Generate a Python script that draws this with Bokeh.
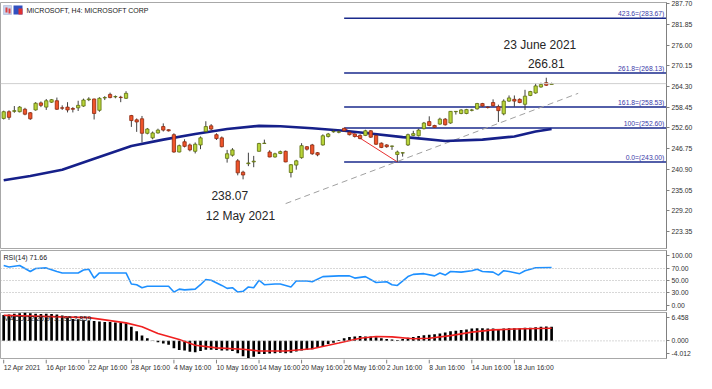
from bokeh.plotting import figure
from bokeh.layouts import column
from bokeh.models import (ColumnDataSource, Range1d, FixedTicker, Label, Span,
                          NumeralTickFormatter, BoxAnnotation)
from bokeh.embed import file_html
from bokeh.resources import INLINE
from bokeh.core.properties import value

# ---------------- data ----------------
opens = [255.3, 257.2, 257.3, 257.2, 257.9, 256.9, 257.7, 259.7, 258.5, 259.9,
         260.3, 258.3, 258.5, 258.1, 258.3, 258.8, 260.6, 260.8, 257.6, 261.1,
         262.1, 261.4, 261.3, 261.0, 256.1, 254.9, 255.2, 251.1, 249.8, 251.2,
         253.0, 252.1, 250.7, 245.8, 248.7, 247.8, 246.0, 247.8, 251.6, 253.2,
         250.7, 249.8, 244.0, 244.9, 243.3, 240.1, 242.5, 243.0, 246.0, 248.2,
         245.8, 244.4, 245.4, 246.0, 240.0, 242.1, 244.2, 247.3, 247.8, 245.6,
         247.8, 250.2, 251.5, 251.4, 252.5, 251.4, 250.9, 250.5, 250.5, 251.8,
         250.5, 248.3, 247.8, 247.4, 245.1, 245.5, 247.8, 250.5, 250.4, 252.4,
         254.4, 253.3, 253.7, 255.1, 254.0, 257.2, 256.7, 256.7, 257.6, 258.0,
         259.5, 258.5, 259.8, 258.6, 256.6, 260.2, 260.7, 260.7, 259.3, 261.8,
         262.5, 264.2, 265.4, 264.9]
highs = [257.5, 257.6, 258.8, 258.8, 258.3, 257.1, 259.9, 260.1, 260.8, 260.8,
         261.2, 259.0, 259.9, 258.5, 260.3, 260.9, 261.3, 260.9, 261.3, 261.6,
         262.6, 261.8, 261.7, 263.0, 256.3, 255.3, 256.0, 252.6, 251.6, 252.4,
         253.9, 252.2, 251.1, 247.9, 249.4, 248.2, 248.5, 250.2, 254.5, 253.7,
         251.1, 250.2, 246.4, 246.9, 243.8, 240.5, 245.6, 244.7, 248.4, 249.3,
         246.3, 245.6, 246.2, 246.2, 242.4, 243.6, 248.3, 247.5, 248.1, 245.8,
         250.8, 251.2, 252.2, 251.9, 252.6, 251.6, 251.1, 250.8, 252.1, 252.0,
         250.7, 248.5, 248.0, 247.6, 246.2, 245.7, 251.0, 251.8, 252.4, 254.3,
         255.9, 253.5, 255.5, 255.4, 257.4, 257.4, 257.9, 258.0, 258.0, 259.7,
         259.7, 258.7, 260.7, 259.2, 260.7, 261.8, 261.8, 261.0, 263.4, 263.1,
         265.3, 265.4, 266.81, 265.4]
lows = [255.0, 254.9, 256.9, 257.0, 256.2, 254.9, 257.5, 258.5, 257.7, 259.7,
        257.7, 257.7, 257.0, 257.0, 257.4, 258.6, 260.2, 255.0, 257.2, 260.5,
        261.0, 261.0, 259.9, 260.8, 252.9, 251.5, 248.5, 250.8, 249.4, 251.0,
        251.6, 251.6, 245.6, 245.7, 247.1, 246.0, 245.4, 246.6, 251.3, 251.9,
        249.2, 247.1, 242.8, 244.5, 239.2, 238.07, 241.8, 241.5, 245.9, 248.2,
        244.3, 244.2, 245.2, 242.9, 238.6, 240.8, 243.9, 246.2, 245.0, 244.6,
        247.6, 249.9, 251.3, 251.1, 251.6, 250.5, 249.9, 249.4, 250.3, 249.8,
        247.8, 246.9, 247.0, 246.4, 243.0, 244.5, 247.5, 250.3, 250.2, 252.2,
        253.1, 252.6, 253.5, 253.3, 253.8, 256.4, 256.5, 256.5, 257.3, 257.8,
        258.6, 258.1, 258.7, 254.3, 256.2, 260.0, 258.6, 259.6, 257.7, 261.6,
        262.3, 264.0, 264.5, 264.9]
closes = [257.2, 255.6, 257.5, 258.5, 256.5, 255.2, 259.6, 259.0, 260.3, 260.6,
          257.9, 258.2, 257.7, 257.9, 259.0, 260.5, 260.8, 256.7, 261.0, 261.2,
          261.2, 261.5, 261.2, 262.4, 254.7, 254.3, 251.1, 252.3, 251.2, 252.0,
          252.0, 251.8, 245.8, 247.6, 247.4, 246.4, 248.0, 249.8, 253.0, 252.3,
          249.6, 247.3, 245.3, 246.4, 239.9, 239.3, 242.7, 243.2, 248.2, 248.3,
          244.4, 245.3, 245.9, 243.0, 242.2, 243.3, 247.6, 246.6, 245.3, 245.0,
          250.4, 250.9, 251.6, 251.5, 251.8, 250.7, 250.2, 249.6, 251.8, 250.0,
          248.0, 247.1, 247.3, 247.5, 245.8, 245.6, 250.7, 251.0, 252.0, 254.0,
          253.3, 252.8, 255.1, 253.5, 257.3, 257.3, 257.7, 257.8, 257.7, 259.5,
          258.8, 258.4, 258.9, 257.5, 260.2, 261.1, 260.2, 259.8, 261.6, 262.9,
          264.5, 264.9, 264.7, 265.15]

ma_i = [0, 5, 11, 17, 24, 30, 36, 42, 48, 52, 58, 64, 68, 75, 77, 83, 90, 96, 100, 103]
ma_v = [237.8, 239.0, 240.8, 243.9, 247.5, 249.3, 250.9, 252.3, 253.2, 253.1,
        252.5, 251.8, 251.2, 250.0, 249.8, 248.9, 249.3, 250.2, 251.6, 252.3]

fib_levels = [243.00, 252.60, 258.53, 268.13, 283.67]
fib_names = ["0.0", "100", "161.8", "261.8", "423.6"]
fib_start = 64
fib_red_x = [64, 74]
fib_red_y = [252.60, 243.00]

trend_x = [53, 108]
trend_y = [231.2, 262.4]

last_price = 265.15
price_ticks = [223.35, 229.20, 235.05, 240.90, 246.75, 252.60, 258.45, 264.30,
               270.15, 276.00, 281.85, 287.70]

ann_x = [42.5, 44.5, 100.8, 102.0]
ann_y = [233.6, 227.7, 276.2, 270.8]
ann_t = ["238.07", "12 May 2021", "23 June 2021", "266.81"]

rsi_i = [0, 1, 3, 4, 5, 6, 8, 10, 11, 14, 15, 16, 17, 18, 23, 24, 25, 26, 27, 31,
         32, 33, 34, 36, 37, 38, 39, 41, 42, 43, 44, 45, 46, 47, 48, 49, 51, 52,
         54, 55, 57, 58, 60, 63, 65, 66, 68, 70, 72, 73, 74, 76, 77, 79, 81, 82,
         83, 84, 86, 88, 89, 90, 92, 93, 94, 95, 97, 98, 100, 103]
rsi_v = [74.9, 72.5, 75.0, 70.0, 65.0, 70.0, 71.0, 65.0, 62.6, 62.6, 67.5, 68.8,
         54.0, 62.6, 62.6, 44.2, 43.0, 38.0, 40.5, 40.5, 30.7, 35.6, 34.4, 35.6,
         43.0, 51.6, 50.4, 41.8, 36.9, 38.0, 30.7, 32.0, 39.3, 38.0, 50.4, 43.0,
         44.2, 44.2, 39.3, 49.1, 49.1, 47.9, 56.5, 57.7, 57.7, 54.0, 56.5, 46.7,
         47.9, 43.0, 41.8, 56.5, 60.2, 61.4, 57.7, 62.6, 59.0, 65.0, 63.9, 66.3,
         68.8, 65.0, 63.9, 59.0, 66.3, 65.0, 61.4, 66.3, 71.2, 71.66]

macd_h = [5.9, 6.0, 6.2, 6.3, 6.4, 6.3, 6.2, 6.1, 6.2, 6.1, 6.0, 5.8,
          5.2, 5.0, 4.9, 4.7, 4.6, 4.5, 4.4, 4.3, 4.3, 4.2, 4.1, 4.0,
          3.2, 2.2, 1.2, 0.6, 0.1, -0.3, -0.6, -0.9, -1.7, -2.1, -2.2, -2.5,
          -2.6, -2.3, -2.0, -2.0, -2.1, -2.2, -2.2, -2.3, -2.8, -3.5, -3.9, -3.6,
          -3.0, -3.0, -2.9, -2.8, -2.7, -2.8, -2.7, -2.4, -2.2, -2.1, -1.9, -1.5,
          -1.2, -0.7, -0.4, 0.2, 0.6, 0.9, 1.0, 1.1, 1.0, 1.0, 0.8, 0.6,
          0.4, 0.3, 0.2, 0.4, 0.7, 0.9, 1.1, 1.3, 1.4, 1.5, 1.7, 1.9,
          2.2, 2.3, 2.5, 2.6, 2.8, 2.9, 2.9, 2.8, 2.8, 2.7, 2.8, 2.9,
          2.9, 2.9, 3.0, 3.0, 3.1, 3.2, 3.25, 3.195]
sig_i = [0, 16, 23, 26, 29, 33, 36, 40, 45, 48, 53, 58, 63, 67, 70, 73, 77, 80, 84, 88, 92, 96, 103]
sig_v = [5.8, 5.3, 4.1, 3.2, 1.7, 0.3, -1.0, -1.6, -1.9, -2.3, -2.3, -1.8, -0.5,
         0.6, 1.0, 0.9, 0.5, 0.6, 1.2, 2.0, 2.5, 2.7, 2.859]
macd_min, macd_max = -4.012, 6.458

xlab_i = [0, 8, 16, 24, 32, 40, 48, 56, 64, 72, 80, 88, 96]
xlab_t = ["12 Apr 2021", "16 Apr 16:00", "22 Apr 16:00", "28 Apr 16:00", "4 May 16:00",
          "10 May 16:00", "14 May 16:00", "20 May 16:00", "26 May 16:00", "2 Jun 16:00",
          "8 Jun 16:00", "14 Jun 16:00", "18 Jun 16:00"]

# ---------------- layout / style ----------------
W = 696
RB = 30
FONT = "Liberation Sans"
FS = "6.8px"
AX = "#808080"
x_range = Range1d(-0.6, 124.6)


def make_fig(h, yr, top=1, bottom=1):
    p = figure(width=W, height=h, x_range=x_range, y_range=yr,
               output_backend="svg", toolbar_location=None,
               x_axis_location=None, y_axis_location="right",
               min_border_left=0, min_border_right=RB,
               min_border_top=top, min_border_bottom=bottom)
    p.grid.visible = False
    p.outline_line_color = "#a8a8a8"
    p.outline_line_width = 1
    p.background_fill_color = "white"
    p.border_fill_color = "white"
    ax = p.yaxis[0]
    ax.axis_line_color = AX
    ax.major_tick_line_color = AX
    ax.major_tick_out = 3
    ax.major_tick_in = 0
    ax.minor_tick_out = 0
    ax.minor_tick_in = 0
    ax.major_label_standoff = 2
    ax.major_label_text_font = FONT
    ax.major_label_text_font_size = FS
    ax.major_label_text_color = "#303030"
    return p


MAIN_H, MAIN_FRAME = 249, 246

# ---- main price panel ----
main = make_fig(MAIN_H, Range1d(218.5, 288.1), top=2, bottom=1)
main.yaxis[0].ticker = FixedTicker(ticks=price_ticks)
main.yaxis[0].formatter = NumeralTickFormatter(format="0.00")

n = len(closes)
idx = list(range(n))
bull = [c >= o for o, c in zip(opens, closes)]
src = ColumnDataSource(dict(
    x=idx, o=opens, h=highs, l=lows, c=closes,
    top=[max(o, c) for o, c in zip(opens, closes)],
    bot=[min(o, c) for o, c in zip(opens, closes)],
    fill=["#b8d43a" if b else "#f0542a" for b in bull],
    edge=["#5e6e10" if b else "#8a2a10" for b in bull],
))

main.add_layout(Span(location=last_price, dimension="width",
                     line_color="#cfcfcf", line_width=1))

# fibonacci levels
fib_src = ColumnDataSource(dict(
    x0=[fib_start] * len(fib_levels), x1=[124.6] * len(fib_levels), y=fib_levels,
    lab=[f"{nm}=({lv:.2f})" for nm, lv in zip(fib_names, fib_levels)],
    lx=[124.2] * len(fib_levels)))
main.segment("x0", "y", "x1", "y", source=fib_src, line_color="#1a2a8c", line_width=1.5)
main.text("lx", "y", text="lab", source=fib_src, text_align="right",
          text_baseline="bottom", text_font=value(FONT), text_font_size="6.8px",
          text_color="#3a3aa8", y_offset=-1)

main.line(trend_x, trend_y, line_color="#a0a0a0", line_width=1, line_dash="6 4")
main.line(fib_red_x, fib_red_y, line_color="#e83030", line_width=1)

main.line(ma_i, ma_v, line_color="#16208a", line_width=2.6)

main.segment("x", "h", "x", "l", source=src, line_color="#404040", line_width=1)
main.vbar(x="x", top="top", bottom="bot", width=0.62, source=src,
          fill_color="fill", line_color="edge", line_width=0.8)

main.text(ann_x, ann_y, text=ann_t, text_align="center", text_baseline="middle",
          text_font=value("Liberation Sans"), text_font_size="12px", text_color="#262626")

T = MAIN_FRAME
main.add_layout(Label(x=26, y=T - 8, x_units="screen", y_units="screen",
                      text="MICROSOFT, H4:  MICROSOFT CORP", text_font=FONT,
                      text_font_size="7px", text_color="#202020",
                      text_baseline="middle"))
def box(l, r, t, b, color, lc=None):
    main.add_layout(BoxAnnotation(left=l, right=r, top=t, bottom=b, left_units="screen",
                                  right_units="screen", top_units="screen", bottom_units="screen",
                                  fill_color=color, fill_alpha=1, line_color=lc))
box(3, 11, T - 3, T - 12, "#c8d4ee", "#7080b0")
box(5, 7, T - 5, T - 10, "#e04040")
box(8, 10, T - 6, T - 11, "#e04040")
box(13, 22, T - 3, T - 12, "#3050c0")
box(18, 22, T - 6, T - 12, "#e03030")
main.add_layout(Label(x=W - RB + 1, y=last_price, x_units="screen", y_units="data",
                      text=f"{last_price:.2f}", text_font=FONT, text_font_size=FS,
                      text_color="white", text_baseline="middle",
                      background_fill_color="#c4c4c4", background_fill_alpha=1))

# ---- RSI panel ----
RSI_H, RSI_FRAME = 62, 60
rsi = make_fig(RSI_H, Range1d(0, 100))
rsi.yaxis[0].ticker = FixedTicker(ticks=[8, 30, 50, 70, 92])
rsi.yaxis[0].major_label_overrides = {8: "0.00", 30: "30.00", 50: "50.00", 70: "70.00", 92: "100.00"}
for lv in (30, 50, 70):
    rsi.add_layout(Span(location=lv, dimension="width", line_color="#b0b0b0",
                        line_width=1, line_dash="1 2"))
rsi.line(rsi_i, rsi_v, line_color="#1e90ff", line_width=1.6)
rsi.add_layout(Label(x=3, y=RSI_FRAME - 10, x_units="screen", y_units="screen",
                     text=f"RSI(14) {rsi_v[-1]:.2f}", text_font=FONT,
                     text_font_size="7px", text_color="#202020"))

# ---- MACD panel ----
MACD_H, MACD_FRAME = 48, 46
macd = make_fig(MACD_H, Range1d(macd_min, macd_max))
rng = macd_max - macd_min
lo_t, hi_t = macd_min + 0.1 * rng, macd_max - 0.1 * rng
macd.yaxis[0].ticker = FixedTicker(ticks=[lo_t, 0.0, hi_t])
macd.yaxis[0].major_label_overrides = {lo_t: f"{macd_min:.3f}", 0.0: "0.000",
                                       hi_t: f"{macd_max:.3f}"}
macd.add_layout(Span(location=0, dimension="width", line_color="#b0b0b0",
                     line_width=1, line_dash="1 2"))
macd.vbar(x=idx, top=macd_h, bottom=0, width=0.5, fill_color="black", line_color=None)
macd.line(sig_i, sig_v, line_color="#f02020", line_width=1.6)
macd.add_layout(Label(x=3, y=MACD_FRAME - 9, x_units="screen", y_units="screen",
                      text=f"MACD(12,26,9) {macd_h[-1]:.3f} {sig_v[-1]:.3f}", text_font=FONT,
                      text_font_size="7px", text_color="#202020"))

# ---- date strip ----
strip = figure(width=W, height=14, x_range=x_range, y_range=Range1d(0, 1),
               output_backend="svg", toolbar_location=None,
               x_axis_location=None, y_axis_location=None,
               min_border_left=0, min_border_right=RB, min_border_top=0, min_border_bottom=0)
strip.grid.visible = False
strip.outline_line_color = None
strip.segment(xlab_i, [1.0] * len(xlab_i), xlab_i, [0.72] * len(xlab_i), line_color=AX)
strip.text(xlab_i, [0.4] * len(xlab_i), text=xlab_t, text_align="left",
           text_baseline="middle", text_font=value(FONT), text_font_size=FS,
           text_color="#303030", x_offset=0)

layout = column(main, rsi, macd, strip, spacing=0)
open("out.html", "w").write(file_html(layout, INLINE))
